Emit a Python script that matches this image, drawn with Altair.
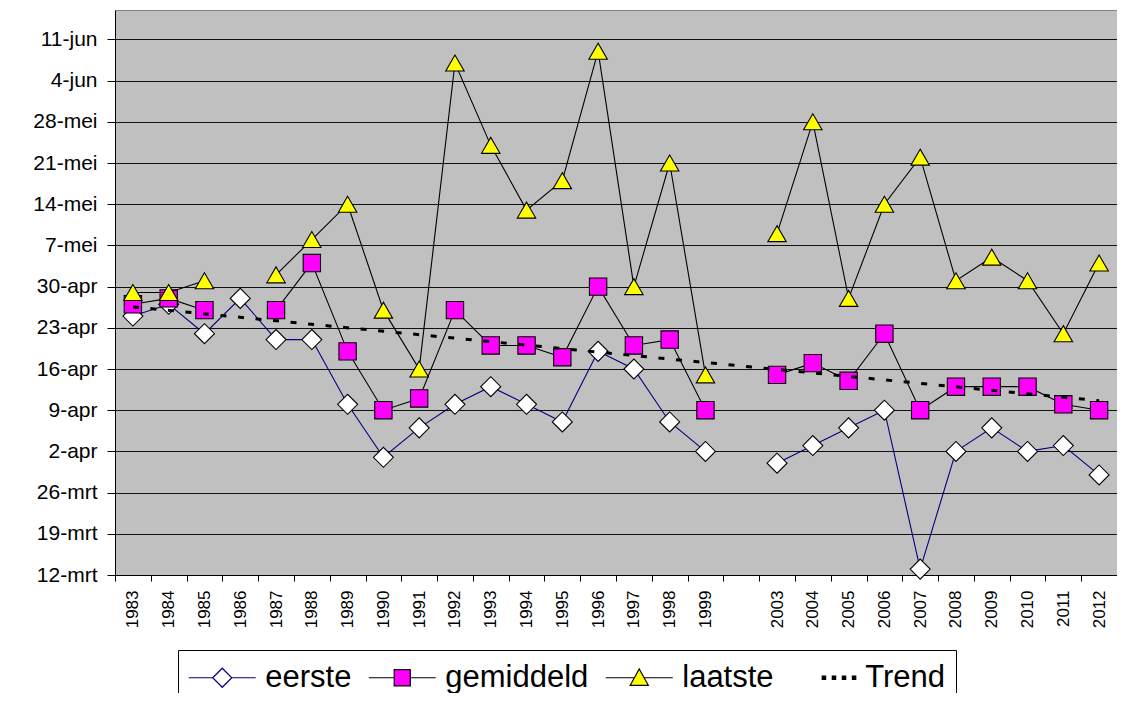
import json
import altair as alt
import pandas as pd

# ---- data (day of year, non-leap year: 71 = 12-mrt) ----
years = ["1983", "1984", "1985", "1986", "1987", "1988", "1989", "1990", "1991",
         "1992", "1993", "1994", "1995", "1996", "1997", "1998", "1999", "",
         "2003", "2004", "2005", "2006", "2007", "2008", "2009", "2010", "2011", "2012"]

eerste = [115, 117, 112, 118, 111, 111, 100, 91, 96, 100, 103, 100, 97, 109, 106, 97, 92, None,
          90, 93, 96, 99, 72, 92, 96, 92, 93, 88]
gemiddeld = [117, 118, 116, None, 116, 124, 109, 99, 101, 116, 110, 110, 108, 120, 110, 111, 99, None,
             105, 107, 104, 112, 99, 103, 103, 103, 100, 99]
laatste = [119, 119, 121, None, 122, 128, 134, 116, 106, 158, 144, 133, 138, 160, 120, 141, 105, None,
           129, 148, 118, 134, 142, 121, 125, 121, 112, 124]

tick_days = [71, 78, 85, 92, 99, 106, 113, 120, 127, 134, 141, 148, 155, 162]
tick_labels = ["12-mrt", "19-mrt", "26-mrt", "2-apr", "9-apr", "16-apr", "23-apr", "30-apr",
               "7-mei", "14-mei", "21-mei", "28-mei", "4-jun", "11-jun"]

series_names = ["eerste", "gemiddeld", "laatste"]
legend_names = ["eerste", "gemiddeld", "laatste", "Trend"]

# ---- long table (segments break the lines at missing years) ----
rows = []
for name, vals in zip(series_names, [eerste, gemiddeld, laatste]):
    seg = 0
    for i, v in enumerate(vals):
        if v is None:
            seg += 1
            continue
        rows.append({"series": name, "idx": i, "year": years[i], "day": v, "seg": f"{name}{seg}"})
df = pd.DataFrame(rows)

FONT = "Liberation Sans"
N = len(years)
W, H = 1002, 565

x_axis = alt.Axis(
    values=[i - 0.5 for i in range(N + 1)],
    labelExpr=json.dumps(years + [""]) + "[round(datum.value + 0.5)]",
    labelOffset=W / N / 2, labelAngle=270, labelFontSize=17, labelFont=FONT, labelColor="black",
    labelOverlap=False, labelFlush=False, labelBound=False, labelPadding=9,
    tickSize=6, tickColor="black", tickWidth=1, domainColor="black", domainWidth=1,
    grid=False, title=None,
)
y_axis = alt.Axis(
    values=tick_days,
    labelExpr=json.dumps(tick_labels) + "[round((datum.value - 71) / 7)]",
    labelFontSize=21, labelFont=FONT, labelColor="black", labelPadding=10,
    tickSize=8, tickColor="black", domainColor="black", domainWidth=1,
    grid=True, gridColor="#111111", gridWidth=1, title=None,
)

x_enc = alt.X("idx:Q", scale=alt.Scale(domain=[-0.5, N - 0.5], nice=False, zero=False), axis=x_axis)
y_enc = alt.Y("day:Q", scale=alt.Scale(domain=[71, 167], nice=False, zero=False), axis=y_axis)

base = alt.Chart(df)

def line_layer(name, color):
    return base.transform_filter(alt.datum.series == name).mark_line(
        color=color, strokeWidth=1.1).encode(x=x_enc, y=y_enc, detail="seg:N")

def marker_layer(name, shape, fill, size):
    return base.transform_filter(alt.datum.series == name).mark_point(
        shape=shape, filled=True, fill=fill, stroke="black", strokeWidth=1.1,
        size=size, opacity=1).encode(x=x_enc, y=y_enc)

trend = base.transform_filter(alt.datum.series == "gemiddeld").transform_regression(
    "idx", "day", method="linear").mark_line(
    color="black", strokeWidth=3, strokeDash=[6, 11.6]).encode(x=x_enc, y=y_enc)

# ---- legend (Excel style line+marker symbols) ----
legend_paths = [
    "M-2,0H-0.57M0.57,0H2M-0.57,0L0,-0.57L0.57,0L0,0.57Z",
    "M-2,0H-0.48M0.48,0H2M-0.48,-0.48H0.48V0.48H-0.48Z",
    "M-2,0H-0.29M0.29,0H2M0,-0.52L0.54,0.45L-0.54,0.45Z",
    "M0,-0.1h0.2v0.2h-0.2Z M0.6,-0.1h0.2v0.2h-0.2Z M1.2,-0.1h0.2v0.2h-0.2Z M1.8,-0.1h0.2v0.2h-0.2Z",
]
legend_fill = ["white", "#FF00FF", "#FFFF00", "black"]
legend_stroke = ["#000080", "black", "black", "black"]

leg = alt.Legend(
    title=None, orient="none", legendX=63, legendY=640, direction="horizontal",
    symbolSize=1122, symbolOffset=16.75, labelOffset=25.5, symbolStrokeWidth=1.2,
    labelFontSize=31, labelFont=FONT, labelColor="black", labelLimit=400,
    strokeColor="black", fillColor="white", padding=10, columnPadding=14,
)
legend_df = pd.DataFrame({"series": legend_names})
legend_layer = alt.Chart(legend_df).mark_point(
    clip=True, size=1122, strokeWidth=1.2, opacity=1).encode(
    x=alt.value(-300), y=alt.value(-300),
    shape=alt.Shape("series:N", scale=alt.Scale(domain=legend_names, range=legend_paths), legend=leg),
    fill=alt.Fill("series:N", scale=alt.Scale(domain=legend_names, range=legend_fill), legend=leg),
    stroke=alt.Stroke("series:N", scale=alt.Scale(domain=legend_names, range=legend_stroke), legend=leg),
)

chart = alt.layer(
    line_layer("eerste", "#000080"),
    marker_layer("eerste", "diamond", "white", 400),
    line_layer("gemiddeld", "black"),
    marker_layer("gemiddeld", "square", "#FF00FF", 300),
    line_layer("laatste", "black"),
    marker_layer("laatste", "triangle-up", "#FFFF00", 340),
    trend,
    legend_layer,
).properties(
    width=W, height=H,
    padding={"left": 107, "top": 2, "right": 0, "bottom": 118},
    autosize=alt.AutoSizeParams(type="none"),
    background="white",
).configure_view(
    fill="#C0C0C0", stroke="#808080", strokeWidth=1,
)

chart.save("out.html", embed_options={"renderer": "svg", "actions": False})
